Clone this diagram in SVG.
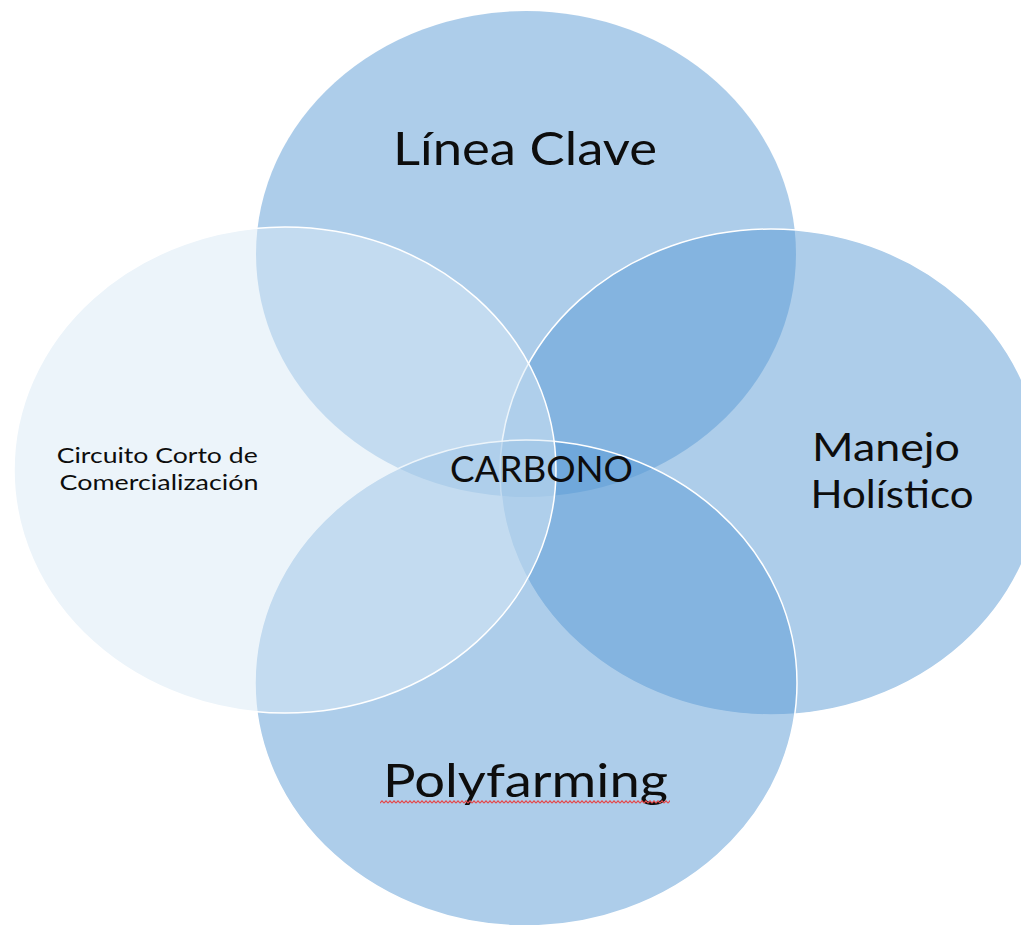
<svg xmlns="http://www.w3.org/2000/svg" width="1021" height="925" viewBox="0 0 1021 925">
  <style>
    .blue { fill: #5B9BD5; fill-opacity: 0.5; }
    .light { fill: #D9E9F5; fill-opacity: 0.5; }
    .edge { stroke: #FFFFFF; stroke-width: 1.5; }
    .lbl { font-family: Lato, "Open Sans", "Liberation Sans", sans-serif; fill: #0D0D0D; text-anchor: middle; }
  </style>
  <defs>
    <pattern id="squiggle" x="0" y="0" width="4" height="4" patternUnits="userSpaceOnUse">
      <path d="M0,3.2 L2,0.8 L4,3.2" fill="none" stroke="#E5484A" stroke-width="1.1"/>
    </pattern>
  </defs>
  <rect width="1021" height="925" fill="#FFFFFF"/>

  <g id="node-linea-clave">
    <ellipse class="blue" cx="526" cy="254" rx="270" ry="243"/>
    <text class="lbl" x="525" y="165" font-size="47" textLength="264" lengthAdjust="spacingAndGlyphs">Línea Clave</text>
  </g>

  <g id="node-manejo-holistico">
    <ellipse class="blue edge" cx="771" cy="472" rx="271" ry="243"/>
    <text class="lbl" font-size="39">
      <tspan x="891" y="461" textLength="148" lengthAdjust="spacingAndGlyphs">Manejo</tspan>
      <tspan x="892" y="508" textLength="163" lengthAdjust="spacingAndGlyphs">Holístico</tspan>
    </text>
  </g>

  <g id="node-polyfarming">
    <ellipse class="blue edge" cx="526" cy="683" rx="271" ry="243"/>
    <text class="lbl" x="525.5" y="797" font-size="46" textLength="285" lengthAdjust="spacingAndGlyphs">Polyfarming</text>
    <rect x="380" y="800" width="290" height="4" fill="url(#squiggle)"/>
  </g>

  <g id="node-circuito">
    <ellipse class="light edge" cx="285" cy="470" rx="271" ry="243"/>
    <text class="lbl" font-size="22">
      <tspan x="160" y="463" textLength="201" lengthAdjust="spacingAndGlyphs">Circuito Corto de</tspan>
      <tspan x="159" y="490" textLength="199" lengthAdjust="spacingAndGlyphs">Comercialización</tspan>
    </text>
  </g>

  <g id="node-carbono">
    <text class="lbl" x="541.5" y="482" font-size="37" textLength="183" lengthAdjust="spacingAndGlyphs">CARBONO</text>
  </g>
</svg>
